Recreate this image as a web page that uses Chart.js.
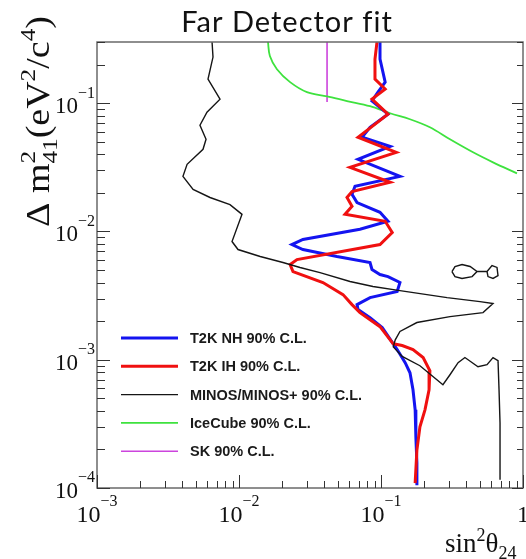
<!DOCTYPE html>
<html>
<head>
<meta charset="utf-8">
<script src="https://cdn.jsdelivr.net/npm/chart.js@4"></script>
<style>
  html, body { margin: 0; padding: 0; background: #fff; }
  #wrap { width: 526px; height: 559px; }
</style>
</head>
<body>
<div id="wrap"><canvas id="fdChart" width="526" height="559"></canvas></div>
<script>
// contours: sin^2(theta_24) on x, delta m^2_41 (eV^2/c^4) on y
const nhSin2 = [0.0984, 0.0984, 0.107, 0.0952, 0.0864, 0.112, 0.0837, 0.0735, 0.116, 0.0689,
                0.136, 0.0656, 0.0625, 0.0678, 0.0984, 0.112, 0.0711, 0.0282, 0.0236, 0.0282,
                0.0490, 0.0837, 0.0864, 0.0984, 0.112, 0.136, 0.130, 0.0837, 0.0678, 0.0689,
                0.0837, 0.102, 0.130, 0.148, 0.160, 0.168, 0.174, 0.176, 0.179, 0.179];
const nhDm2 = [0.3, 0.221, 0.146, 0.122, 0.104, 0.0821, 0.0649, 0.0543, 0.0461, 0.0365,
               0.0269, 0.0225, 0.0195, 0.0168, 0.0141, 0.0120, 0.0104, 0.00866, 0.00791, 0.00723,
               0.00638, 0.00573, 0.00505, 0.00462, 0.00445, 0.00400, 0.00340, 0.00305, 0.00269, 0.00246,
               0.00213, 0.00178, 0.00120, 0.000948, 0.000791, 0.000583, 0.000407, 0.000250, 0.000157, 0.000105];

const ihSin2 = [0.0937, 0.0907, 0.0907, 0.107, 0.0864, 0.112, 0.0689, 0.128, 0.0605, 0.116,
                0.0625, 0.0576, 0.0625, 0.0558, 0.107, 0.120, 0.0984, 0.0256, 0.0229, 0.0240,
                0.0390, 0.0540, 0.0625, 0.0711, 0.0984, 0.122, 0.141, 0.168, 0.198, 0.221,
                0.218, 0.204, 0.188, 0.179, 0.174];
const ihDm2 = [0.3, 0.221, 0.154, 0.129, 0.1075, 0.0821, 0.0543, 0.0414, 0.0316, 0.0242,
               0.0205, 0.0184, 0.0157, 0.0136, 0.0120, 0.00982, 0.00791, 0.00604, 0.00552, 0.00487,
               0.00400, 0.00322, 0.00269, 0.00233, 0.00181, 0.00133, 0.00129, 0.00120, 0.00104, 0.000821,
               0.000583, 0.000407, 0.000300, 0.000198, 0.000109];

const minosSin2 = [0.00646, 0.00656, 0.00605, 0.00735, 0.00595, 0.00531, 0.00586, 0.00558, 0.00431, 0.00403,
                   0.00475, 0.00625, 0.00864, 0.0105, 0.00893, 0.00984, 0.0141, 0.0204, 0.0269, 0.0372,
                   0.0605, 0.0878, 0.136, 0.292, 0.498, 0.615, 0.523, 0.306, 0.179, 0.136,
                   0.126, 0.122, 0.141, 0.188, 0.273, 0.306, 0.349, 0.390, 0.482, 0.558,
                   0.615, 0.667, 0.678, 0.689, 0.689];
const minosDm2 = [0.3, 0.229, 0.154, 0.1075, 0.0851, 0.0673, 0.0523, 0.0437, 0.0334, 0.0269,
                  0.0213, 0.0184, 0.0162, 0.0136, 0.00835, 0.00723, 0.00638, 0.00573, 0.00524, 0.00478,
                  0.00407, 0.00372, 0.00346, 0.00305, 0.00284, 0.00274, 0.00233, 0.00217, 0.00195, 0.00166,
                  0.00143, 0.00126, 0.00106, 0.000898, 0.000638, 0.000764, 0.000948, 0.00104, 0.000882, 0.000914,
                  0.00104, 0.000982, 0.000583, 0.000322, 0.000116];

// small closed MINOS island on the right
const islandSin2 = [0.316, 0.332, 0.372, 0.424, 0.475, 0.558, 0.605, 0.656, 0.667, 0.615,
                    0.567, 0.558, 0.475, 0.438, 0.372, 0.332, 0.316];
const islandDm2 = [0.00487, 0.00533, 0.00552, 0.00533, 0.00487, 0.00487, 0.00542, 0.00524, 0.00453, 0.00430,
                   0.00445, 0.00487, 0.00487, 0.00445, 0.00430, 0.00445, 0.00487];

const iceSin2 = [0.0160, 0.0165, 0.0185, 0.0229, 0.0301, 0.0417, 0.0576, 0.0837, 0.116, 0.160,
                 0.221, 0.306, 0.445, 0.615, 0.907];
const iceDm2 = [0.3, 0.233, 0.184, 0.146, 0.122, 0.113, 0.104, 0.0948, 0.0835, 0.0750,
                0.0649, 0.0523, 0.0414, 0.0346, 0.0284];

const skSin2 = [0.0417, 0.0417];
const skDm2 = [0.3, 0.102];

const legendLabels = ['T2K NH 90% C.L.', 'T2K IH 90% C.L.', 'MINOS/MINOS+ 90% C.L.', 'IceCube 90% C.L.', 'SK 90% C.L.'];
const xMajorTicks = [0.001, 0.01, 0.1, 1];
const yMajorTicks = [0.0001, 0.001, 0.01, 0.1];

function pts(xs, ys) {
    return xs.map((v, i) => ({ x: v, y: ys[i] }));
}

function curve(label, xs, ys, color, width, extra) {
    return Object.assign({
        label: label,
        data: pts(xs, ys),
        showLine: true,
        borderColor: color,
        backgroundColor: color,
        borderWidth: width,
        pointRadius: 0,
        fill: false,
        tension: 0,
        clip: 0
    }, extra || {});
}

// dataset index 0 ends up on top
const datasets = [
    curve(legendLabels[2], minosSin2, minosDm2, '#151515', 1.4),
    curve('MINOS island', islandSin2, islandDm2, '#151515', 1.4),
    curve(legendLabels[1], ihSin2, ihDm2, '#f01010', 3),
    curve(legendLabels[0], nhSin2, nhDm2, '#1414f0', 3),
    curve(legendLabels[3], iceSin2, iceDm2, '#3ee23e', 1.8, { tension: 0.35 }),
    curve(legendLabels[4], skSin2, skDm2, '#cc44dd', 1.6)
];
const legendOrder = [3, 2, 0, 4, 5];

function drawRich(ctx, parts, x0, y0, F, family, supRatio, raise, lower) {
    let x = x0;
    for (const p of parts) {
        if (p.t) {
            ctx.font = F + 'px ' + family;
            ctx.fillText(p.t, x, y0);
            x += ctx.measureText(p.t).width;
        }
        let w = 0;
        ctx.font = Math.round(F * supRatio) + 'px ' + family;
        if (p.sup) { ctx.fillText(p.sup, x, y0 - F * raise); w = Math.max(w, ctx.measureText(p.sup).width); }
        if (p.sub) { ctx.fillText(p.sub, x, y0 + F * lower); w = Math.max(w, ctx.measureText(p.sub).width); }
        x += w;
    }
    return x - x0;
}

function richWidth(ctx, parts, F, family, supRatio) {
    let w = 0;
    for (const p of parts) {
        if (p.t) { ctx.font = F + 'px ' + family; w += ctx.measureText(p.t).width; }
        ctx.font = Math.round(F * supRatio) + 'px ' + family;
        w += Math.max(p.sup ? ctx.measureText(p.sup).width : 0, p.sub ? ctx.measureText(p.sub).width : 0);
    }
    return w;
}

function powParts(v) {
    const e = Math.round(Math.log10(v));
    if (e === 0) return [{ t: '1' }];
    return [{ t: '10', sup: (e < 0 ? '\u2212' : '') + Math.abs(e) }];
}

const SERIF = '"Liberation Serif", "DejaVu Serif", serif';

const frameAndText = {
    id: 'frameAndText',
    afterDatasetsDraw(chart) {
        const { ctx, chartArea: a, scales: { x, y } } = chart;
        ctx.save();

        // frame
        ctx.strokeStyle = '#6a6a6a';
        ctx.lineWidth = 1.5;
        ctx.strokeRect(a.left, a.top, a.right - a.left, a.bottom - a.top);

        // inward tick marks
        ctx.strokeStyle = '#333';
        ctx.lineWidth = 1;
        ctx.beginPath();
        xMajorTicks.forEach(base => {
            for (let m = 1; m <= 9; m++) {
                const v = base * m;
                if (v < x.min * 0.999 || v > x.max * 1.001) continue;
                const px = Math.round(x.getPixelForValue(v)) + 0.5;
                const len = m === 1 ? 13 : 7;
                ctx.moveTo(px, a.bottom);
                ctx.lineTo(px, a.bottom - len);
            }
        });
        yMajorTicks.forEach(base => {
            for (let m = 1; m <= 9; m++) {
                const v = base * m;
                if (v < y.min * 0.999 || v > y.max * 1.001) continue;
                const py = Math.round(y.getPixelForValue(v)) + 0.5;
                ctx.moveTo(a.left, py);
                ctx.lineTo(a.left + (m === 1 ? 13 : 8), py);
                ctx.moveTo(a.right, py);
                ctx.lineTo(a.right - (m === 1 ? 11 : 6), py);
            }
        });
        ctx.stroke();

        // tick labels
        ctx.fillStyle = '#111';
        ctx.textBaseline = 'alphabetic';
        ctx.textAlign = 'left';
        xMajorTicks.forEach(v => {
            const parts = powParts(v);
            const w = richWidth(ctx, parts, 24, SERIF, 0.68);
            const px = x.getPixelForValue(v);
            drawRich(ctx, parts, px - w / 2, a.bottom + 34, 24, SERIF, 0.68, 0.68, 0);
        });
        yMajorTicks.forEach(v => {
            const parts = powParts(v);
            const w = richWidth(ctx, parts, 23, SERIF, 0.68);
            const py = y.getPixelForValue(v);
            drawRich(ctx, parts, 95 - w, py + 10, 23, SERIF, 0.68, 0.68, 0);
        });

        // axis titles
        drawRich(ctx, [{ t: 'sin', sup: '2' }, { t: '\u03b8', sub: '24' }], 445, 552, 27, SERIF, 0.68, 0.42, 0.25);
        ctx.save();
        ctx.translate(49, 227);
        ctx.rotate(-Math.PI / 2);
        ctx.scale(1.15, 1);
        drawRich(ctx, [{ t: '\u0394 m', sup: '2', sub: '41' }, { t: '(eV', sup: '2' }, { t: '/c', sup: '4' }, { t: ')' }],
            0, 0, 33, SERIF, 0.66, 0.42, 0.25);
        ctx.restore();

        // chart title
        ctx.font = '400 29px Lato, "Open Sans", sans-serif';
        ctx.letterSpacing = '1px';
        ctx.textAlign = 'center';
        ctx.fillText('Far Detector fit', 287, 32);
        ctx.letterSpacing = '0px';

        // legend
        ctx.textAlign = 'left';
        ctx.textBaseline = 'middle';
        ctx.font = 'bold 14.5px "Liberation Sans", Arial, sans-serif';
        legendOrder.forEach((di, row) => {
            const ds = chart.data.datasets[di];
            const ly = 338 + row * 28.3;
            ctx.strokeStyle = ds.borderColor;
            ctx.lineWidth = ds.borderWidth;
            ctx.beginPath();
            ctx.moveTo(121, ly);
            ctx.lineTo(178, ly);
            ctx.stroke();
            ctx.fillStyle = '#1a1a1a';
            ctx.fillText(ds.label, 190, ly + 1);
        });

        ctx.restore();
    }
};

new Chart(document.getElementById('fdChart'), {
    type: 'scatter',
    data: { datasets: datasets },
    options: {
        responsive: false,
        animation: false,
        devicePixelRatio: 1,
        layout: { padding: { left: 97, top: 42, right: 3, bottom: 71 } },
        plugins: {
            legend: { display: false },
            tooltip: { enabled: false },
            title: { display: false }
        },
        scales: {
            x: { type: 'logarithmic', min: 0.001, max: 1, display: false },
            y: { type: 'logarithmic', min: 0.0001, max: 0.3, display: false }
        }
    },
    plugins: [frameAndText]
});
</script>
</body>
</html>
